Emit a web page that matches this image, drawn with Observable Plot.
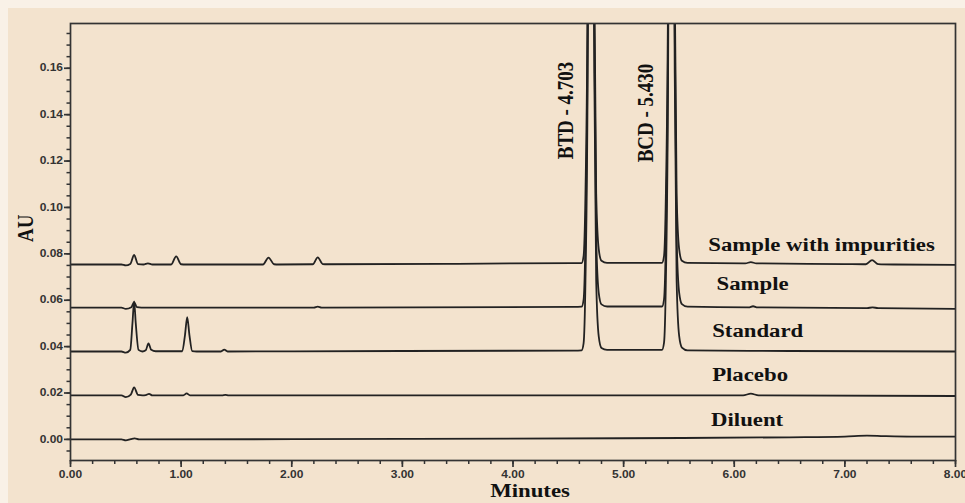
<!DOCTYPE html>
<html>
<head>
<meta charset="utf-8">
<script src="https://cdn.jsdelivr.net/npm/d3@7"></script>
<script src="https://cdn.jsdelivr.net/npm/@observablehq/plot@0.6"></script>
<style>
  html, body { margin: 0; padding: 0; overflow: hidden; background: #f9f1e7; width: 965px; height: 503px; }
  #bg { position: absolute; left: 8px; top: 8px; right: 0; bottom: 0; background: #f3e3ce; }
  #chart { position: absolute; left: 0; top: 0; }
</style>
</head>
<body>
<div id="bg"></div>
<div id="chart"></div>
<script>
// ---- data (time in minutes, absorbance in AU) ----
const seriesNames = ["Sample with impurities", "Sample", "Standard", "Placebo", "Diluent"];

const sampleImpurities = [
  [0.00, 0.0754], [0.46, 0.0754], [0.50, 0.0750], [0.54, 0.0756], [0.575, 0.0795], [0.61, 0.0756],
  [0.66, 0.0754], [0.70, 0.0759], [0.74, 0.0754], [0.91, 0.0754], [0.955, 0.0789], [1.00, 0.0755],
  [1.04, 0.0754], [1.74, 0.0754], [1.79, 0.0784], [1.84, 0.0755], [1.88, 0.0754], [2.19, 0.0755],
  [2.235, 0.0785], [2.28, 0.0756], [2.32, 0.0755], [3.50, 0.0757], [4.55, 0.0760],
  [4.62, 0.0760], [4.638, 0.0790], [4.655, 0.106], [4.675, 0.196], [4.69, 0.376], [4.703, 0.526],
  [4.718, 0.376], [4.735, 0.196], [4.752, 0.106], [4.775, 0.082], [4.80, 0.0770], [4.85, 0.0761],
  [5.347, 0.0761], [5.365, 0.0790], [5.382, 0.106], [5.402, 0.196], [5.417, 0.376], [5.43, 0.526],
  [5.445, 0.376], [5.462, 0.196], [5.479, 0.106], [5.502, 0.082], [5.527, 0.0770], [5.577, 0.0761],
  [6.10, 0.0759], [6.15, 0.0764], [6.20, 0.0759], [7.00, 0.0756], [7.19, 0.0755], [7.246, 0.0773],
  [7.30, 0.0756], [7.45, 0.0754], [8.00, 0.0752]
];

const sample = [
  [0.00, 0.0568], [0.46, 0.0568], [0.50, 0.0563], [0.55, 0.0570], [0.575, 0.0592], [0.60, 0.0570],
  [0.64, 0.0568], [2.20, 0.0568], [2.235, 0.0572], [2.27, 0.0568], [4.55, 0.0571],
  [4.62, 0.0572], [4.638, 0.0602], [4.655, 0.0872], [4.675, 0.177], [4.69, 0.357], [4.703, 0.507],
  [4.718, 0.357], [4.735, 0.177], [4.752, 0.0872], [4.775, 0.0632], [4.80, 0.0582], [4.85, 0.0573],
  [5.347, 0.0573], [5.365, 0.0603], [5.382, 0.0873], [5.402, 0.177], [5.417, 0.357], [5.43, 0.507],
  [5.445, 0.357], [5.462, 0.177], [5.479, 0.0873], [5.502, 0.0633], [5.527, 0.0583], [5.577, 0.0572],
  [6.13, 0.0569], [6.17, 0.0574], [6.21, 0.0569], [7.20, 0.0566], [7.25, 0.0569], [7.30, 0.0566],
  [8.00, 0.0563]
];

const standard = [
  [0.00, 0.0379], [0.46, 0.0379], [0.50, 0.0374], [0.54, 0.0386], [0.56, 0.0500], [0.575, 0.0595],
  [0.59, 0.0500], [0.615, 0.0386], [0.65, 0.0379], [0.68, 0.0384], [0.705, 0.0414], [0.73, 0.0386],
  [0.77, 0.0380], [1.01, 0.0380], [1.035, 0.0450], [1.055, 0.0527], [1.075, 0.0450], [1.10, 0.0381],
  [1.14, 0.0379], [1.36, 0.0379], [1.39, 0.0387], [1.42, 0.0379], [3.00, 0.0381], [4.55, 0.0383],
  [4.62, 0.0384], [4.638, 0.0414], [4.655, 0.0684], [4.675, 0.158], [4.69, 0.338], [4.703, 0.488],
  [4.718, 0.338], [4.735, 0.158], [4.752, 0.0684], [4.775, 0.0444], [4.80, 0.0394], [4.85, 0.0386],
  [5.347, 0.0386], [5.365, 0.0416], [5.382, 0.0686], [5.402, 0.158], [5.417, 0.338], [5.43, 0.488],
  [5.445, 0.338], [5.462, 0.158], [5.479, 0.0686], [5.502, 0.0446], [5.527, 0.0396], [5.577, 0.0384],
  [6.50, 0.0381], [8.00, 0.0379]
];

const placebo = [
  [0.00, 0.0190], [0.46, 0.0190], [0.50, 0.0182], [0.545, 0.0193], [0.575, 0.0224], [0.61, 0.0192],
  [0.65, 0.0190], [0.68, 0.0191], [0.71, 0.0196], [0.74, 0.0190], [1.02, 0.0190], [1.05, 0.0198],
  [1.08, 0.0190], [1.37, 0.0190], [1.40, 0.0192], [1.43, 0.0190], [6.08, 0.0190], [6.15, 0.0197],
  [6.22, 0.0190], [8.00, 0.0187]
];

const diluent = [
  [0.00, 0.0000], [0.46, 0.0000], [0.50, -0.0004], [0.545, 0.0001], [0.58, 0.0004], [0.62, 0.0000],
  [3.00, 0.0002], [5.00, 0.0005], [6.50, 0.0009], [7.00, 0.0012], [7.20, 0.0016], [7.35, 0.0014],
  [7.60, 0.0012], [8.00, 0.0012]
];

// trace labels (left edge / vertical centre, in data units)
const labelX = [5.765, 5.84, 5.80, 5.80, 5.79];
const labelY = [0.0838, 0.0670, 0.0466, 0.0276, 0.0086];

// peak labels
const peakNames = ["BTD - 4.703", "BCD - 5.430"];
const peakLabelX = [4.475, 5.198];
const peakLabelY = [0.1418, 0.1407];

// axis ticks
const xTicks = [0, 1, 2, 3, 4, 5, 6, 7, 8];
const yTicks = [0.00, 0.02, 0.04, 0.06, 0.08, 0.10, 0.12, 0.14, 0.16];
const xMinor = d3.range(0, 8.001, 0.2);
const yMinor = d3.range(-0.005, 0.1751, 0.005);

// ---- build tables ----
const traces = [sampleImpurities, sample, standard, placebo, diluent];
const lineData = traces.flatMap((arr, i) => arr.map(([t, v]) => ({series: seriesNames[i], t, v})));
const labels = seriesNames.map((name, i) => ({name, x: labelX[i], y: labelY[i]}));
const peakLabels = peakNames.map((name, i) => ({name, x: peakLabelX[i], y: peakLabelY[i]}));

const serif = "'Liberation Serif', 'Times New Roman', serif";
const sans = "'Liberation Sans', Arial, sans-serif";
const ink = "#222";
const tickInk = "#333";

const chart = Plot.plot({
  width: 965,
  height: 503,
  marginLeft: 70,
  marginRight: 10,
  marginTop: 23,
  marginBottom: 43,
  style: {background: "transparent", fontFamily: sans, fontSize: "10px", fontWeight: "bold", color: tickInk, overflow: "visible"},
  x: {domain: [0, 8], label: null},
  y: {domain: [-0.0091, 0.1793], label: null},
  marks: [
    Plot.axisX(xMinor, {tickSize: 4, tickFormat: () => "", stroke: tickInk, strokeWidth: 1.5}),
    Plot.axisX(xTicks, {tickSize: 7, tickPadding: 3, tickFormat: d => d.toFixed(2), stroke: tickInk, strokeWidth: 1.7,
      fill: tickInk, fontSize: 10, fontWeight: "bold", fontFamily: sans, label: null}),
    Plot.axisY(yMinor, {tickSize: 3.5, tickFormat: () => "", stroke: tickInk, strokeWidth: 1.5}),
    Plot.axisY(yTicks, {tickSize: 6, tickPadding: 1.5, tickFormat: d => d.toFixed(2), stroke: tickInk, strokeWidth: 1.7,
      fill: tickInk, fontSize: 10, fontWeight: "bold", fontFamily: sans, label: null}),
    Plot.line(lineData, {x: "t", y: "v", z: "series", stroke: ink, strokeWidth: 1.8, curve: "monotone-x", clip: true}),
    Plot.frame({stroke: "#333", strokeWidth: 1.7}),
    Plot.text(labels, {x: "x", y: "y", text: "name", textAnchor: "start", fontFamily: serif, fontSize: 19, fontWeight: "bold", fill: "#111"}),
    Plot.text(peakLabels, {x: "x", y: "y", text: "name", rotate: -90, fontFamily: serif, fontSize: 19, fontWeight: "bold", fill: "#111"}),
    Plot.text(["AU"], {frameAnchor: "left", dx: -45, rotate: -90, fontFamily: serif, fontSize: 19, fontWeight: "bold", fill: "#111"}),
    Plot.text(["Minutes"], {frameAnchor: "bottom", dx: 17, dy: 36, fontFamily: serif, fontSize: 19, fontWeight: "bold", fill: "#111"})
  ]
});

// the reference's lettering is stretched horizontally ~1.2x
const SX = 1.2;
chart.querySelectorAll("text").forEach(t => {
  const tr = t.getAttribute("transform") || "";
  const m = tr.match(/^\s*translate\(([^)]*)\)(.*)$/);
  if (m) {
    t.setAttribute("transform", `translate(${m[1]}) scale(${SX},1)${m[2]}`);
  } else {
    const x = +(t.getAttribute("x") || 0), y = +(t.getAttribute("y") || 0);
    t.removeAttribute("x"); t.removeAttribute("y");
    t.setAttribute("transform", `translate(${x},${y}) scale(${SX},1) ${tr}`);
  }
});

document.getElementById("chart").appendChild(chart);
</script>
</body>
</html>
